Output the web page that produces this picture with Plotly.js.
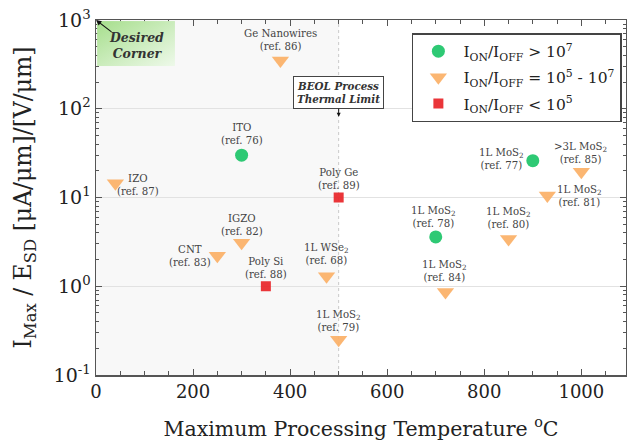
<!DOCTYPE html>
<html>
<head>
<meta charset="utf-8">
<script src="https://cdn.plot.ly/plotly-3.0.1.min.js"></script>
<style>html,body{margin:0;padding:0;background:#fff;}#chart{width:627px;height:446px;}</style>
</head>
<body>
<div id="chart"></div>
<script>
// ---- data ----
const labels = [
  'ITO<br>(ref. 76)', '1L MoS<sub>2</sub><br>(ref. 77)', '1L MoS<sub>2</sub><br>(ref. 78)',
  'Ge Nanowires<br>(ref. 86)', 'IZO<br>(ref. 87)', 'IGZO<br>(ref. 82)', 'CNT<br>(ref. 83)',
  '1L WSe<sub>2</sub><br>(ref. 68)', '1L MoS<sub>2</sub><br>(ref. 79)', '1L MoS<sub>2</sub><br>(ref. 84)',
  '1L MoS<sub>2</sub><br>(ref. 80)', '>3L MoS<sub>2</sub><br>(ref. 85)', '1L MoS<sub>2</sub><br>(ref. 81)',
  'Poly Si<br>(ref. 88)', 'Poly Ge<br>(ref. 89)'
];
const temperature = [300, 900, 700, 380, 40, 300, 250, 475, 500, 720, 850, 1000, 930, 350, 500];
const imaxOverEsd = [30, 26, 3.6, 350, 14.5, 3.1, 2.2, 1.3, 0.25, 0.86, 3.4, 19.5, 10.5, 1.0, 10];
const ratioClass = ['high','high','high','mid','mid','mid','mid','mid','mid','mid','mid','mid','mid','low','low'];
const classNames = {
  high: 'I<sub>ON</sub>/I<sub>OFF</sub> > 10<sup>7</sup>',
  mid: 'I<sub>ON</sub>/I<sub>OFF</sub> = 10<sup>5</sup> - 10<sup>7</sup>',
  low: 'I<sub>ON</sub>/I<sub>OFF</sub> < 10<sup>5</sup>'
};
const yTickVals = [0.1, 1, 10, 100, 1000];
const yTickText = ['10<sup>-1</sup>', '10<sup>0</sup>', '10<sup>1</sup>', '10<sup>2</sup>', '10<sup>3</sup>'];
const xTickVals = [0, 200, 400, 600, 800, 1000];
const beolLimit = 500;

// ---- styling (kept apart from the data) ----
const classStyle = {
  high: {symbol: 'circle', size: 13, color: 'rgb(28,196,104)'},
  mid: {symbol: 'triangle-down', size: 15, color: 'rgb(251,176,102)'},
  low: {symbol: 'square', size: 10, color: 'rgb(232,36,40)'}
};
// label offsets in pixels [xshift, yshift]
const labelShift = [
  [0, 21], [-31, 2], [-2, 20],
  [0, 20], [23, -2], [0, 18], [-27, 0],
  [0, 22], [0, 19], [-1, 21],
  [0, 21], [-1, 19], [32, 0],
  [0, 18], [0, 19]
];

const serif = 'DejaVu Serif';
const traces = ['high', 'mid', 'low'].map(c => {
  const idx = ratioClass.map((r, i) => r === c ? i : -1).filter(i => i >= 0);
  const s = classStyle[c];
  return {
    type: 'scatter', mode: 'markers', name: classNames[c], legendgroup: c,
    x: idx.map(i => temperature[i]), y: idx.map(i => imaxOverEsd[i]),
    marker: {symbol: s.symbol, size: s.size, color: s.color, opacity: 0.92, line: {width: 0}},
    cliponaxis: false
  };
});

const annotations = labels.map((t, i) => ({
  x: temperature[i], y: Math.log10(imaxOverEsd[i]), xref: 'x', yref: 'y',
  text: t, showarrow: false, xshift: labelShift[i][0], yshift: labelShift[i][1],
  font: {family: serif, size: 10.2, color: '#444'}, align: 'center'
}));
annotations.push({
  x: beolLimit, y: 1.91, xref: 'x', yref: 'y', ax: 0, ay: -24,
  text: '<b><i>BEOL Process<br>Thermal Limit</i></b>', showarrow: true,
  arrowhead: 2, arrowsize: 0.8, arrowwidth: 1, arrowcolor: '#111', standoff: 0,
  bordercolor: '#444', borderwidth: 1, borderpad: 3, bgcolor: '#fff',
  font: {family: serif, size: 10.3, color: '#333'}
});
annotations.push({
  x: 0, y: 3, xref: 'x', yref: 'y', ax: 17, ay: 13, text: '', showarrow: true,
  arrowhead: 2, arrowsize: 0.9, arrowwidth: 1.2, arrowcolor: '#111', standoff: 0
});
annotations.push({
  x: 0.076, y: 0.928, xref: 'paper', yref: 'paper', xanchor: 'center', yanchor: 'middle',
  text: '<b><i>Desired<br>Corner</i></b>', showarrow: false,
  font: {family: serif, size: 12.5, color: '#333'}
});

const gradSvg = '<svg xmlns="http://www.w3.org/2000/svg" width="100" height="60" preserveAspectRatio="none"><defs><linearGradient id="g" x1="0" y1="0" x2="1" y2="1"><stop offset="0" stop-color="#a6de8c"/><stop offset="1" stop-color="#eef9ea"/></linearGradient></defs><rect width="100" height="60" fill="url(#g)"/></svg>';

const layout = {
  width: 627, height: 446,
  margin: {l: 96, r: 1, t: 20, b: 71, autoexpand: false},
  paper_bgcolor: '#fff', plot_bgcolor: '#fff',
  font: {family: serif},
  showlegend: true,
  legend: {
    x: 0.596, y: 0.963, xanchor: 'left', yanchor: 'top',
    bgcolor: '#fff', bordercolor: '#444', borderwidth: 1.5,
    font: {family: serif, size: 15.5, color: '#222'},
    itemwidth: 40, traceorder: 'grouped', tracegroupgap: 3
  },
  xaxis: {
    range: [0, 1092], tickvals: xTickVals, ticks: 'inside', ticklen: 6, tickcolor: '#555',
    showgrid: false, zeroline: false, showline: true, linecolor: '#555', linewidth: 1.5, mirror: 'ticks',
    tickfont: {family: serif, size: 18, color: '#222'},
    minor: {dtick: 50, ticks: 'inside', ticklen: 4, tickcolor: '#555', showgrid: false},
    title: {text: 'Maximum Processing Temperature <sup>o</sup>C', font: {family: serif, size: 20.5, color: '#222'}, standoff: 20}
  },
  yaxis: {
    type: 'log', range: [-1, 3], tickvals: yTickVals, ticktext: yTickText,
    ticks: 'inside', ticklen: 6, tickcolor: '#555',
    showgrid: true, gridcolor: '#e2e2e2', gridwidth: 1, zeroline: false,
    showline: true, linecolor: '#555', linewidth: 1.5, mirror: 'ticks',
    tickfont: {family: serif, size: 19, color: '#222'},
    minor: {dtick: 'D1', ticks: 'inside', ticklen: 3, tickcolor: '#555', showgrid: false},
    title: {text: 'I<sub>Max</sub> / E<sub>SD</sub> [μA/μm]/[V/μm]', font: {family: serif, size: 23.5, color: '#222'}, standoff: 15}
  },
  shapes: [
    {type: 'rect', xref: 'x', yref: 'paper', x0: 0, x1: beolLimit, y0: 0, y1: 1,
     fillcolor: '#f8f8f8', line: {width: 0}, layer: 'below'},
    {type: 'line', xref: 'x', yref: 'paper', x0: beolLimit, x1: beolLimit, y0: 0, y1: 1,
     line: {color: '#c8c8c8', width: 1, dash: 'dot'}, layer: 'below'}
  ],
  images: [{
    source: 'data:image/svg+xml;charset=utf-8,' + encodeURIComponent(gradSvg),
    xref: 'paper', yref: 'paper', x: 0.002, y: 0.997, sizex: 0.147, sizey: 0.127,
    xanchor: 'left', yanchor: 'top', sizing: 'stretch', layer: 'above'
  }],
  annotations: annotations
};

Plotly.newPlot('chart', traces, layout, {displayModeBar: false, staticPlot: true});
</script>
</body>
</html>
